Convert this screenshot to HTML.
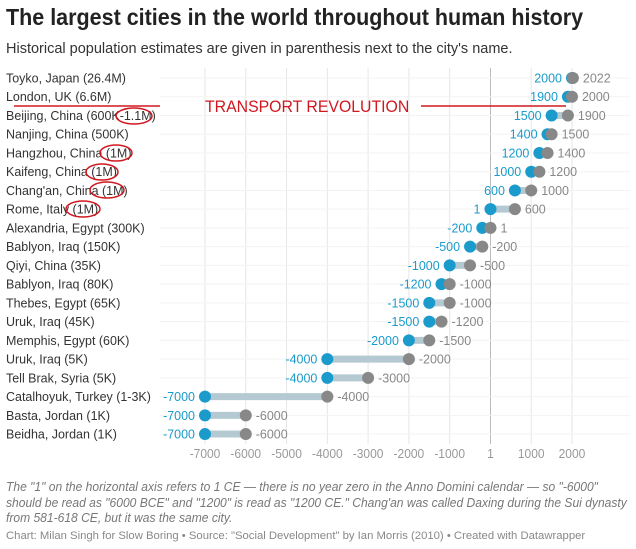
<!DOCTYPE html>
<html><head><meta charset="utf-8"><style>
body{margin:0;width:636px;height:549px;background:#fff;font-family:"Liberation Sans",sans-serif;overflow:hidden;position:relative}
.t{position:absolute;white-space:nowrap}
</style></head><body>
<div class="t" style="left:6px;top:4px;font-size:23px;font-weight:bold;color:#222;transform:scaleX(0.935);transform-origin:0 0">The largest cities in the world throughout human history</div>
<div class="t" style="left:6px;top:41px;font-size:14.5px;color:#333">Historical population estimates are given in parenthesis next to the city's name.</div>
<svg id="c" width="636" height="549" style="position:absolute;left:0;top:0"></svg>
<div class="t" style="left:6px;top:480px;font-size:12.5px;line-height:15.5px;color:#777;font-style:italic;transform:scaleX(0.965);transform-origin:0 0">The "1" on the horizontal axis refers to 1 CE — there is no year zero in the Anno Domini calendar — so "-6000"<br>should be read as "6000 BCE" and "1200" is read as "1200 CE." Chang'an was called Daxing during the Sui dynasty<br>from 581-618 CE, but it was the same city.</div>
<div class="t" style="left:6px;top:530px;font-size:11.3px;color:#888">Chart: Milan Singh for Slow Boring • Source: "Social Development" by Ian Morris (2010) • Created with Datawrapper</div>
<script>
const cities=["Toyko, Japan (26.4M)","London, UK (6.6M)","Beijing, China (600K-1.1M)","Nanjing, China (500K)","Hangzhou, China (1M)","Kaifeng, China (1M)","Chang'an, China (1M)","Rome, Italy (1M)","Alexandria, Egypt (300K)","Bablyon, Iraq (150K)","Qiyi, China (35K)","Bablyon, Iraq (80K)","Thebes, Egypt (65K)","Uruk, Iraq (45K)","Memphis, Egypt (60K)","Uruk, Iraq (5K)","Tell Brak, Syria (5K)","Catalhoyuk, Turkey (1-3K)","Basta, Jordan (1K)","Beidha, Jordan (1K)"];
const startYears=[2000,1900,1500,1400,1200,1000,600,1,-200,-500,-1000,-1200,-1500,-1500,-2000,-4000,-4000,-7000,-7000,-7000];
const endYears=[2022,2000,1900,1500,1400,1200,1000,600,1,-200,-500,-1000,-1000,-1200,-1500,-2000,-3000,-4000,-6000,-6000];
const ticks=[-7000,-6000,-5000,-4000,-3000,-2000,-1000,1,1000,2000];
const svg=document.getElementById('c');const NS='http://www.w3.org/2000/svg';
const SX=0.96;
const x=v=>205+(v+7000)*(367/9000);
const y=i=>78+i*18.74;
function mk(t,a,p){const e=document.createElementNS(NS,t);for(const k in a)e.setAttribute(k,a[k]);(p||svg).appendChild(e);return e;}
function txt(s,px,py,anchor,size,fill){const e=mk('text',{x:px/SX,y:py,'text-anchor':anchor,'font-size':size,fill:fill,transform:'scale('+SX+',1)'});e.textContent=s;return e;}
ticks.forEach(t=>{
 const g=mk('line',{x1:x(t),x2:x(t),y1:68,y2:444,stroke:t===1?'#bbb':'#e6e6e6','stroke-width':1});
 
 
 const l=txt(t,x(t),458,'middle',12.5,'#999');
 
 
});
cities.forEach((c,i)=>{
 const yy=y(i);
 mk('line',{x1:160,x2:630,y1:yy,y2:yy,stroke:'#f3f3f3','stroke-width':1});
 const lb=txt(c,6,yy+4.5,'start',13,'#333');
 
 
 const bar=mk('line',{x1:x(startYears[i]),x2:x(endYears[i]),y1:yy,y2:yy,stroke:'#b5c9d3','stroke-width':7});
 
 
 const s=mk('circle',{cx:x(startYears[i]),cy:yy,r:6,fill:'#1a9bcc'});
 
 
 const e=mk('circle',{cx:x(endYears[i]),cy:yy,r:6,fill:'#888'});
 
 
 const st=txt(startYears[i],x(startYears[i])-10,yy+4.5,'end',13,'#1a9bcc');
 
 
 const et=txt(endYears[i],x(endYears[i])+10,yy+4.5,'start',13,'#888');
 
 
});
mk('line',{x1:14,x2:160,y1:106,y2:106,stroke:'#d0181f','stroke-width':1.5});
mk('line',{x1:421,x2:566,y1:106,y2:106,stroke:'#d0181f','stroke-width':1.5});
const tr=txt('TRANSPORT REVOLUTION',205,112,'start',16.5,'#d0181f');


[[134,116,18,8],[116,153,16,8],[102,172,16,8],[107,190,17,8],[83,209,17,8]].forEach(a=>{
 const el=mk('ellipse',{cx:a[0],cy:a[1],rx:a[2],ry:a[3],fill:'none',stroke:'#d0181f','stroke-width':1.5});
 
 
});
</script>
</body></html>
